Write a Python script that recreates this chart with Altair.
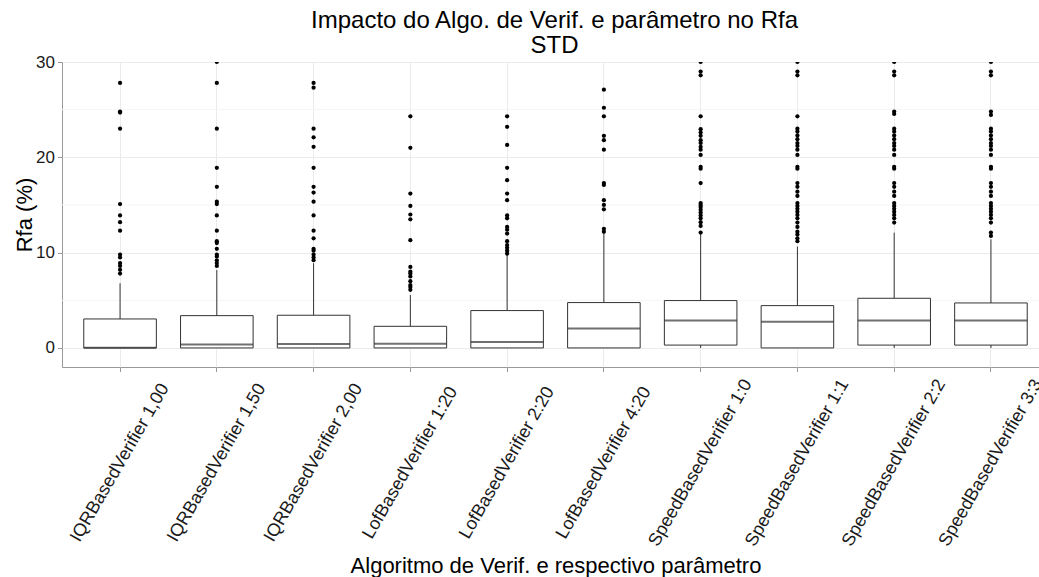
import altair as alt
import pandas as pd

cats = [
    "IQRBasedVerifier 1,00", "IQRBasedVerifier 1,50", "IQRBasedVerifier 2,00",
    "LofBasedVerifier 1:20", "LofBasedVerifier 2:20", "LofBasedVerifier 4:20",
    "SpeedBasedVerifier 1:0", "SpeedBasedVerifier 1:1", "SpeedBasedVerifier 2:2",
    "SpeedBasedVerifier 3:3",
]
whisker_lo = [0, 0, 0, 0, 0, 0, 0, 0, 0, 0]
q1 = [0, 0, 0, 0, 0, 0, 0.3, 0, 0.3, 0.3]
median = [0.02, 0.35, 0.42, 0.45, 0.63, 2.03, 2.87, 2.76, 2.87, 2.87]
q3 = [3.04, 3.39, 3.43, 2.27, 3.92, 4.76, 4.97, 4.44, 5.21, 4.72]
whisker_hi = [6.79, 8.18, 8.89, 5.56, 9.86, 12.2, 12.1, 10.63, 12.1, 11.4]

outliers = [
    [27.8, 24.8, 24.7, 23.0, 15.1, 13.9, 13.2, 12.3, 9.8, 9.5, 8.9, 8.6, 8.2, 7.8],
    [30.0, 27.8, 23.0, 18.9, 16.9, 15.35, 15.1, 13.9, 12.3, 11.2, 11.0, 10.4, 9.8, 9.6, 9.2, 8.9, 8.6],
    [27.8, 27.3, 23.0, 22.1, 21.1, 18.9, 16.9, 16.3, 15.35, 13.9, 12.3, 11.5, 10.4, 10.2, 9.8, 9.5, 9.2],
    [24.3, 21.0, 16.2, 14.9, 14.0, 13.5, 11.3, 8.5, 8.0, 7.8, 7.5, 7.0, 6.6, 6.4, 6.1],
    [24.3, 23.2, 21.3, 18.9, 17.6, 16.2, 15.5, 13.9, 13.6, 12.7, 12.4, 12.0, 11.2, 10.8, 10.5, 10.2, 9.9],
    [27.1, 25.2, 24.3, 22.25, 21.8, 20.8, 17.3, 17.1, 15.5, 15.0, 14.55, 12.5, 12.2],
    [30.0, 29.0, 28.6, 24.3, 22.95, 22.6, 22.25, 21.8, 21.5, 21.1, 20.8, 20.25, 19.0, 18.8, 17.3,
     15.2, 15.0, 14.8, 14.5, 14.2, 13.9, 13.6, 13.2, 12.8, 12.1],
    [30.0, 29.0, 28.6, 24.3, 23.0, 22.7, 22.3, 21.9, 21.5, 21.2, 20.8, 20.25, 19.0, 18.8, 17.3,
     16.9, 16.4, 15.95, 15.2, 14.9, 14.6, 14.3, 13.95, 13.6, 13.15, 12.7, 12.2, 11.9, 11.5, 11.2],
    [30.0, 29.0, 28.6, 24.8, 24.55, 23.0, 22.7, 22.3, 21.9, 21.5, 21.2, 20.8, 20.25, 19.0, 18.8,
     17.3, 16.9, 16.4, 15.95, 15.2, 14.9, 14.6, 14.3, 13.95, 13.6, 13.15],
    [30.0, 29.0, 28.6, 24.8, 24.45, 23.0, 22.7, 22.3, 21.9, 21.5, 21.2, 20.8, 20.25, 19.0, 18.8,
     17.3, 16.9, 16.4, 15.95, 15.2, 14.9, 14.6, 14.3, 13.95, 13.6, 13.15, 12.1, 11.75],
]
minor_grid = [5, 15, 25]
y_ticks = [0, 10, 20, 30]

box_df = pd.DataFrame({"cat": cats, "lo": whisker_lo, "q1": q1, "med": median,
                       "q3": q3, "hi": whisker_hi})
out_df = pd.DataFrame([{"cat": c, "v": v} for c, vs in zip(cats, outliers) for v in vs])
minor_df = pd.DataFrame({"m": minor_grid})

FONT = "Liberation Sans"
xscale = alt.Scale(domain=cats, paddingInner=0.25, paddingOuter=0.225, range=[0, 987])
yscale = alt.Scale(domain=[-2, 30], nice=False, zero=False)

xaxis = alt.Axis(
    title="Algoritmo de Verif. e respectivo parâmetro",
    labelAngle=300, labelAlign="center", labelBaseline="middle", labelPadding=91,
    tickSize=4.5, tickColor="#999999", domain=False, grid=True, gridColor="#ebebeb",
    bandPosition=0.5, labelFontSize=18, titleFontSize=22, titleY=205,
    titleBaseline="alphabetic", labelColor="#1a1a1a", titleColor="black",
    labelLimit=0, labelOverlap=False, labelFont=FONT, titleFont=FONT,
    titleFontWeight="normal",
)
yaxis = alt.Axis(
    title="Rfa (%)", values=y_ticks, tickSize=4.5, tickColor="#999999", domain=False,
    grid=True, gridColor="#ebebeb", labelFontSize=17, labelPadding=3,
    titleFontSize=22, titleX=-31, titleBaseline="alphabetic", labelColor="#1a1a1a",
    titleColor="black", labelFont=FONT, titleFont=FONT, titleFontWeight="normal",
)

X = alt.X("cat:N", scale=xscale, axis=xaxis, sort=cats)

minor = alt.Chart(minor_df).mark_rule(color="#f5f5f5", strokeWidth=1).encode(
    y=alt.Y("m:Q", scale=yscale, axis=yaxis)
)
whisk = alt.Chart(box_df).mark_rule(color="#333333", strokeWidth=1).encode(
    x=X, y=alt.Y("lo:Q", scale=yscale, axis=yaxis), y2="hi:Q"
)
box = alt.Chart(box_df).mark_bar(fill="white", stroke="#333333", strokeWidth=1).encode(
    x=X, y=alt.Y("q1:Q", scale=yscale, axis=yaxis), y2="q3:Q"
)
med = alt.Chart(box_df).mark_tick(color="#333333", thickness=2, size=72.6).encode(
    x=X, y=alt.Y("med:Q", scale=yscale, axis=yaxis)
)
pts = alt.Chart(out_df).mark_circle(size=18, color="black", opacity=1, clip=True).encode(
    x=X, y=alt.Y("v:Q", scale=yscale, axis=yaxis)
)

chart = alt.layer(minor, whisk, box, med, pts).properties(
    width=977, height=305,
    autosize=alt.AutoSizeParams(type="none"),
    padding={"left": 62, "top": 62, "right": 0, "bottom": 210},
    title=alt.TitleParams(
        ["Impacto do Algo. de Verif. e parâmetro no Rfa", "STD"],
        fontSize=24, font=FONT, fontWeight="normal", anchor="middle",
        offset=2, baseline="bottom", lineHeight=25, color="black", dx=4, dy=31,
    ),
).configure_view(stroke="#999999", strokeWidth=1)

chart.save("out.html", embed_options={"renderer": "svg", "actions": False})
